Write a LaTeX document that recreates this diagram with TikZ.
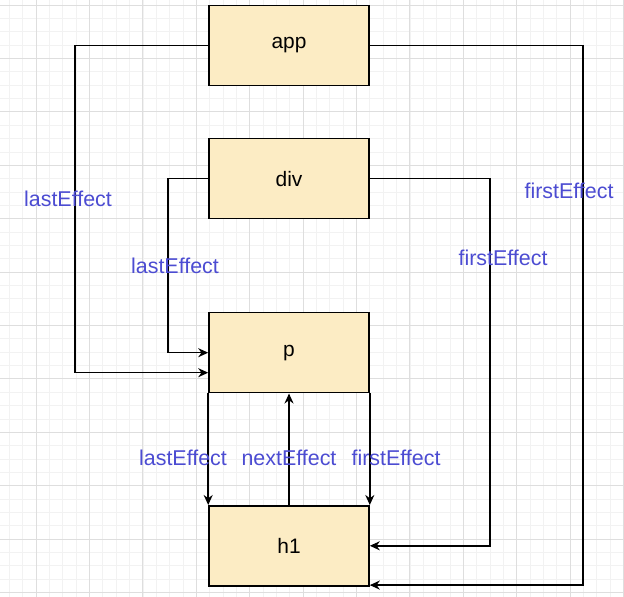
\documentclass[tikz,border=0pt]{standalone}
\usepackage{fontspec}
\setmainfont{Liberation Sans}
\usetikzlibrary{arrows.meta}
\usetikzlibrary{positioning,calc}
\definecolor{boxfill}{RGB}{252,236,196}
\definecolor{lblblue}{RGB}{76,76,210}
\definecolor{gridmajor}{RGB}{222,222,222}
\definecolor{gridminor}{RGB}{242,242,242}

\begin{document}
\begin{tikzpicture}[x=1bp, y=1bp,
    box/.style={draw=black, fill=boxfill, line width=1.6bp, minimum width=160bp, minimum height=80bp, inner sep=0pt, font=\fontsize{21}{25}\selectfont},
    arr/.style={line width=1.6bp, -{Stealth[length=10bp,width=9bp]}},
    lbl/.style={text=lblblue, inner sep=0pt, font=\fontsize{21.5}{25}\selectfont}]
    \useasboundingbox (0,0) rectangle (624,597);
    \fill[white] (0,0) rectangle (624,597);
    \begin{scope}[shift={(36,4.6)}]
        \draw[gridminor, line width=0.6bp, step=13.35bp] (-36,-4.6) grid (588,592.4);
        \draw[gridmajor, line width=0.9bp, step=53.4bp] (-36,-4.6) grid (588,592.4);
    \end{scope}

    \node[box] (app) at (289,551.5) {app};
    \node[box, below=51.5bp of app] (div) {div};
    \node[box, below=92.5bp of div] (p) {p};
    \node[box, below=111.5bp of p] (h1) {h1};

    \draw[arr] (app.west) -- ++(-133,0) |- ($(p.west)+(0,-20)$);
    \draw[arr] (app.east) -- ++(213,0) |- ($(h1.south east)+(0,1.5)$);
    \draw[arr] (div.west) -- ++(-40,0) |- (p.west);
    \draw[arr] (div.east) -- ++(120,0) |- (h1.east);
    \draw[arr] (p.south west) -- (h1.north west);
    \draw[arr] (p.south east) -- (h1.north east);
    \draw[arr] (h1.north) -- (p.south);

    \node[lbl] (applast) at (68,398) {lastEffect};
    \node[lbl] (appfirst) at (569,406) {firstEffect};
    \node[lbl] (divlast) at (175,331) {lastEffect};
    \node[lbl] (divfirst) at (503,339) {firstEffect};
    \node[lbl] (plast) at (183,139) {lastEffect};
    \node[lbl] (h1next) at (289,139) {nextEffect};
    \node[lbl] (pfirst) at (396,139) {firstEffect};
\end{tikzpicture}
\end{document}
